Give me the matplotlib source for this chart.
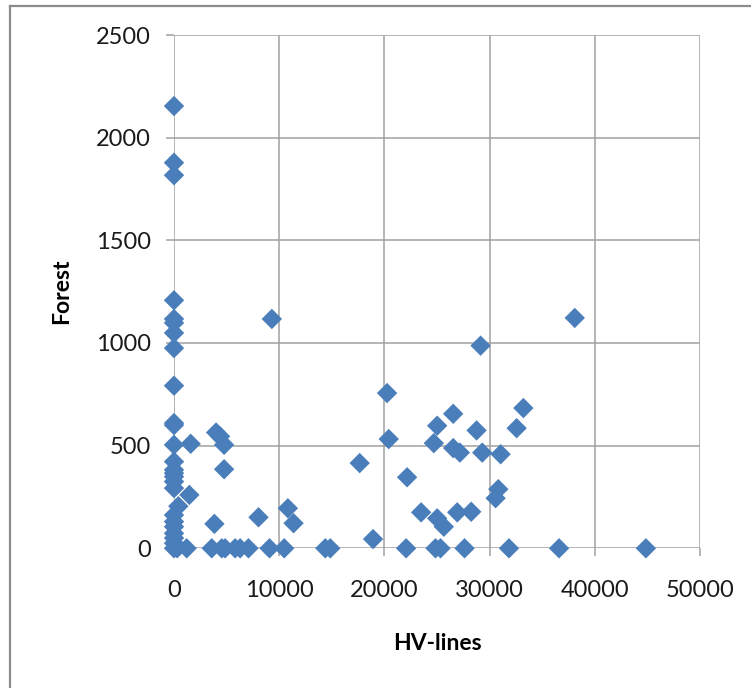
import matplotlib
matplotlib.use("Agg")
import matplotlib.pyplot as plt
from matplotlib.lines import Line2D

# HV-lines length vs forest area
hv_lines = [
    0, 0, 0, 0, 0, 0, 0, 0, 0, 0, 0, 0, 0, 0, 0, 0, 0, 0,
    412, 0, 0, 0, 0, 0, 0, 0, 300, 1206,
    1587, 1460, 4000, 4381, 4762, 4762, 3841, 8032, 9300, 10825, 11365,
    3587, 4540, 4857, 5810, 6286, 7079, 9079, 10476, 14381, 14857,
    17651, 18921, 20254, 20413, 22159, 22064, 23493, 25016, 24698,
    25016, 25650, 24857, 25333, 26540, 26540, 27175, 26921, 27619,
    28254, 28762, 29143, 29301, 31048, 30826, 30571, 31841, 32571,
    33210, 36603, 38095, 44857,
]
forest = [
    2154, 1878, 1817, 1208, 1117, 1098, 1049, 975, 792, 610, 600, 504,
    422, 382, 366, 349, 325, 293,
    205, 162, 130, 105, 73, 50, 25, 0, 0, 0,
    509, 260, 564, 545, 504, 385, 119, 151, 1117, 195, 122,
    0, 0, 0, 0, 0, 0, 0, 0, 0, 0,
    415, 45, 756, 532, 346, 0, 175, 597, 512,
    146, 105, 0, 0, 655, 488, 466, 175, 0,
    178, 574, 987, 466, 458, 288, 244, 0, 585,
    683, 0, 1122, 0,
]

x_ticks = [0, 10000, 20000, 30000, 40000, 50000]
y_ticks = [0, 500, 1000, 1500, 2000, 2500]

W, H = 751, 688
GRID = "#a0a0a0"
BLUE = "#4a7ebb"
FONT = "Lato"

fig = plt.figure(figsize=(W / 100, H / 100), dpi=100)
fig.patch.set_facecolor("white")

# plot area in pixels: x 174..700, y 35..548 (from top)
ax = fig.add_axes([174 / W, 1 - 548.3 / H, 526 / W, 513.3 / H])
ax.scatter(hv_lines, forest, marker="D", s=108, color=BLUE,
           edgecolors="none", zorder=3, clip_on=False)

ax.set_xlim(0, 50000)
ax.set_ylim(0, 2500)
ax.set_xticks(x_ticks)
ax.set_yticks(y_ticks)
ax.grid(True, color=GRID, linewidth=1.1)
ax.set_axisbelow(True)
for s in ax.spines.values():
    s.set_visible(False)

ax.tick_params(axis="both", direction="out", length=5.8, width=1.1,
               color=GRID, labelsize=17, labelcolor="#1a1a1a")
ax.tick_params(axis="y", pad=11)
ax.tick_params(axis="x", pad=17)
for lab in ax.get_xticklabels() + ax.get_yticklabels():
    lab.set_fontfamily(FONT)

ax.set_xlabel("HV-lines", fontsize=16.5, fontweight="bold", family=FONT,
              va="center")
ax.set_ylabel("Forest", fontsize=16.5, fontweight="bold", family=FONT,
              va="center")
ax.xaxis.set_label_coords(0.5, (548.3 - 643) / 513.3)
ax.yaxis.set_label_coords((62 - 174) / 526, 0.5)

# outer chart frame (only left and top edges are inside the crop)
fx, fy = 9.5 / W, 1 - 5.5 / H
fig.add_artist(Line2D([fx, fx], [0, fy], color="#8c8c8c", lw=1.6,
                      transform=fig.transFigure))
fig.add_artist(Line2D([fx, 1], [fy, fy], color="#8c8c8c", lw=1.6,
                      transform=fig.transFigure))

fig.savefig("out.png", dpi=100, facecolor="white")
